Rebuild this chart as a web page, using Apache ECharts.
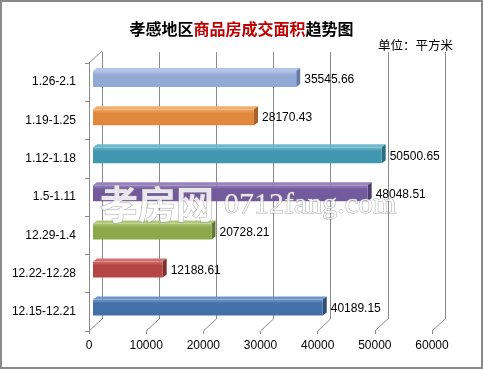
<!DOCTYPE html>
<html>
<head>
<meta charset="utf-8">
<script src="https://cdn.jsdelivr.net/npm/echarts@6/dist/echarts.min.js"></script>
<style>html,body{margin:0;padding:0;background:#fff}#c{width:483px;height:369px}</style>
</head>
<body>
<div id="c"></div>
<script>
var categories = ['1.26-2.1', '1.19-1.25', '1.12-1.18', '1.5-1.11', '12.29-1.4', '12.22-12.28', '12.15-12.21'];
var areaValues = [35545.66, 28170.43, 50500.65, 48048.51, 20728.21, 12188.61, 40189.15];
var xTicks = [0, 10000, 20000, 30000, 40000, 50000, 60000];

var faceColors = [
  ['#93A9D5', '#B3C5E6', '#647AA8'],
  ['#E0883C', '#F2AC6E', '#A9612A'],
  ['#3F98AF', '#70B9CC', '#2C6D7F'],
  ['#735A9D', '#9782BC', '#4E3D6E'],
  ['#8BA94B', '#AEC97A', '#627934'],
  ['#B54644', '#D2706D', '#7E302F'],
  ['#4470A9', '#7096C8', '#2F4F78']
];
var lineColor = '#8a8a8a';
var depth = [13, -12];
var barDepth = [4, -3];
var FONT = 'Liberation Sans';

var chart = echarts.init(document.getElementById('c'));

function barItem(params, api) {
  var idx = api.value(1);
  var val = api.value(0);
  var p0 = api.coord([0, idx]);
  var p1 = api.coord([val, idx]);
  var h = api.size([0, 1])[1] * 0.42;
  var x0 = p0[0], x1 = p1[0], yt = p0[1] - h / 2, yb = p0[1] + h / 2;
  var c = faceColors[idx];
  var dx = barDepth[0], dy = barDepth[1];
  return {
    type: 'group',
    children: [
      {type: 'polygon', shape: {points: [[x0, yt], [x0 + dx, yt + dy], [x1 + dx, yt + dy], [x1, yt]]}, style: {fill: c[1]}},
      {type: 'polygon', shape: {points: [[x1, yt], [x1 + dx, yt + dy], [x1 + dx, yb + dy], [x1, yb]]}, style: {fill: c[2]}},
      {type: 'rect', shape: {x: x0, y: yt, width: x1 - x0, height: h},
        style: {fill: new echarts.graphic.LinearGradient(0, 0, 0, 1, [{offset: 0, color: c[1]}, {offset: 0.25, color: c[0]}, {offset: 1, color: c[0]}])}},
      {type: 'text', x: x1 + dx + 4, y: p0[1] + 1,
        style: {text: areaValues[idx].toFixed(2), fill: '#000', font: '12px "' + FONT + '"', verticalAlign: 'middle', align: 'left'}}
    ]
  };
}

function floorItem(params, api) {
  var v = api.value(0);
  var last = categories.length - 1;
  var p = api.coord([v, last]);
  var y = p[1] + api.size([0, 1])[1] / 2;
  var children = [
    {type: 'line', shape: {x1: p[0], y1: y, x2: p[0] + depth[0], y2: y + depth[1]}, style: {stroke: lineColor, lineWidth: 1}}
  ];
  if (v === 0) {
    var q = api.coord([0, 0]);
    var yt = q[1] - api.size([0, 1])[1] / 2;
    children.push({type: 'line', shape: {x1: q[0], y1: yt, x2: q[0] + depth[0], y2: yt + depth[1]}, style: {stroke: lineColor, lineWidth: 1}});
  }
  return {type: 'group', children: children};
}

var option = {
  backgroundColor: '#fff',
  animation: false,
  title: [
    {
      text: '{a|孝感地区}{b|商品房成交面积}{a|趋势图}',
      left: 'center', top: 16,
      textStyle: {
        rich: {
          a: {fontSize: 16, fontWeight: 'bold', color: '#000', fontFamily: 'Noto Sans CJK SC'},
          b: {fontSize: 16, fontWeight: 'bold', color: '#C00000', fontFamily: 'Noto Sans CJK SC'}
        }
      }
    },
    {
      text: '单位：平方米', right: 25, top: 34,
      textStyle: {fontSize: 12.5, fontWeight: 'normal', color: '#000', fontFamily: 'Noto Sans CJK SC'}
    }
  ],
  grid: [
    {left: 102, top: 52, width: 343, height: 267},
    {left: 89, top: 63, width: 343, height: 268},
    {left: 93, top: 60, width: 343, height: 266.6}
  ],
  xAxis: [
    {gridIndex: 0, type: 'value', min: 0, max: 60000, interval: 10000,
      axisLine: {show: false}, axisTick: {show: false}, axisLabel: {show: false},
      splitLine: {show: true, lineStyle: {color: lineColor, width: 1}}},
    {gridIndex: 1, type: 'value', min: 0, max: 60000, interval: 10000,
      axisLine: {show: false}, axisTick: {show: true, length: 3, lineStyle: {color: lineColor}},
      splitLine: {show: false},
      axisLabel: {show: true, margin: 9, color: '#000', fontSize: 12, fontFamily: FONT,
        formatter: function (v) { return String(v); }}},
    {gridIndex: 2, type: 'value', min: 0, max: 60000, interval: 10000, show: false}
  ],
  yAxis: [
    {gridIndex: 0, type: 'category', data: categories, inverse: true, show: false},
    {gridIndex: 1, type: 'category', data: categories, inverse: true,
      axisLine: {show: true, lineStyle: {color: lineColor}},
      axisTick: {show: true, length: 4, lineStyle: {color: lineColor}},
      axisLabel: {margin: 13, color: '#000', fontSize: 12, fontFamily: FONT}},
    {gridIndex: 2, type: 'category', data: categories, inverse: true, show: false}
  ],
  series: [
    {type: 'custom', xAxisIndex: 1, yAxisIndex: 1, renderItem: floorItem,
      data: xTicks.map(function (t) { return [t]; }), silent: true, z: 1},
    {type: 'custom', xAxisIndex: 2, yAxisIndex: 2, renderItem: barItem,
      data: areaValues.map(function (v, i) { return [v, i]; }), z: 3}
  ],
  graphic: [
    {type: 'rect', shape: {x: 1, y: 1, width: 481, height: 367}, style: {fill: 'none', stroke: '#8a8a8a', lineWidth: 2}, z: 100},
    {type: 'text', x: 100, y: 204, z: 50,
      style: {text: '孝房网', font: 'bold 38px "Noto Sans CJK SC"', fill: 'rgba(255,255,255,0.85)', stroke: 'rgba(140,140,140,0.7)', lineWidth: 1, verticalAlign: 'middle'}},
    {type: 'text', x: 224, y: 205, z: 50,
      style: {text: '0712fang.com', font: '30px "Liberation Serif"', fill: 'rgba(255,255,255,0.85)', stroke: 'rgba(140,140,140,0.7)', lineWidth: 1, verticalAlign: 'middle'}}
  ]
};
chart.setOption(option);
</script>
</body>
</html>
